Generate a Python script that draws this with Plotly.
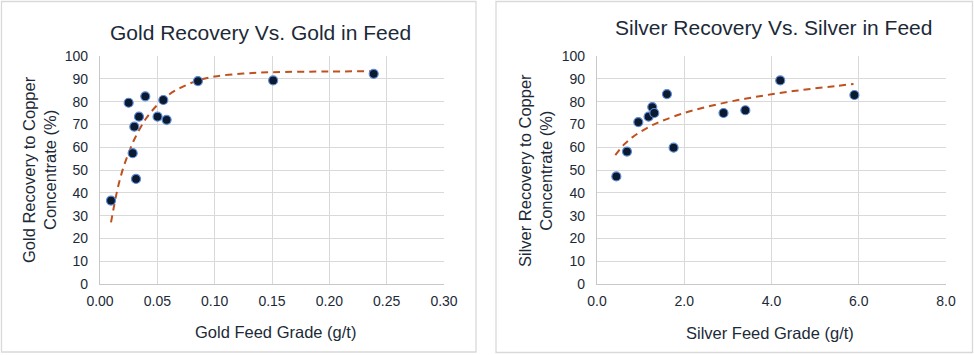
import plotly.graph_objects as go

# ---- Data ----
gold_feed = [0.0096, 0.025, 0.0285, 0.0299, 0.0314, 0.034, 0.0395, 0.0502, 0.0552, 0.0581, 0.0854, 0.151, 0.2387]
gold_rec = [36.6, 79.5, 57.4, 69.0, 46.1, 73.4, 82.3, 73.4, 80.7, 72.0, 89.0, 89.3, 92.2]
gold_trend_x = [0.0096, 0.015, 0.02, 0.025, 0.03, 0.04, 0.05, 0.06, 0.07, 0.085, 0.10, 0.125, 0.15, 0.20, 0.2387]
gold_trend_y = [27.0, 41.0, 50.5, 57.5, 63.5, 72.5, 78.5, 83.0, 86.0, 89.2, 91.0, 92.3, 92.9, 93.2, 93.3]

silver_feed = [0.443, 0.687, 0.947, 1.183, 1.267, 1.313, 1.603, 1.756, 2.90, 3.40, 4.20, 5.90]
silver_rec = [47.2, 58.1, 71.0, 73.4, 77.6, 75.0, 83.3, 59.8, 75.0, 76.2, 89.3, 82.9]
silver_trend_x = [0.42, 0.6, 0.8, 1.0, 1.25, 1.5, 2.0, 2.5, 3.0, 3.5, 4.0, 4.5, 5.0, 5.5, 5.88]
silver_trend_y = [56.5, 60.8, 64.2, 66.8, 69.5, 71.6, 75.0, 77.6, 79.8, 81.6, 83.2, 84.6, 85.8, 86.9, 87.7]

y_ticks = [0, 10, 20, 30, 40, 50, 60, 70, 80, 90, 100]
gold_x_ticks = [0.00, 0.05, 0.10, 0.15, 0.20, 0.25, 0.30]
silver_x_ticks = [0.0, 2.0, 4.0, 6.0, 8.0]

W, H = 974, 355
FONT = "Arial, Liberation Sans, sans-serif"
TXT = "#1c2a38"
GRID = "#d9d9d9"
MARK = "#0b1a2e"
MARK_LINE = "#5b8ad8"
TREND = "#c0501f"

def px(x):
    return x / W

def py(y):
    return 1 - y / H

fig = go.Figure()

trend_line = dict(color=TREND, width=2, dash="7px,5px", shape="spline")
marker = dict(color=MARK, size=9, line=dict(color=MARK_LINE, width=1.2))

fig.add_trace(go.Scatter(x=gold_trend_x, y=gold_trend_y, mode="lines", line=trend_line,
                         xaxis="x", yaxis="y", showlegend=False, hoverinfo="skip"))
fig.add_trace(go.Scatter(x=gold_feed, y=gold_rec, mode="markers", marker=marker,
                         xaxis="x", yaxis="y", showlegend=False))
fig.add_trace(go.Scatter(x=silver_trend_x, y=silver_trend_y, mode="lines", line=trend_line,
                         xaxis="x2", yaxis="y2", showlegend=False, hoverinfo="skip"))
fig.add_trace(go.Scatter(x=silver_feed, y=silver_rec, mode="markers", marker=marker,
                         xaxis="x2", yaxis="y2", showlegend=False))

axis_common = dict(showgrid=True, gridcolor=GRID, gridwidth=1.3, zeroline=False, showline=True, linecolor="#c8c8c8", linewidth=1.3,
                   ticks="", tickfont=dict(family=FONT, size=14, color=TXT), fixedrange=True, automargin=False)

plot_top = py(56)
plot_bot = py(284)

fig.update_layout(
    width=W, height=H,
    margin=dict(l=0, r=0, t=0, b=0, pad=0, autoexpand=False),
    paper_bgcolor="white", plot_bgcolor="white",
    font=dict(family=FONT, color=TXT),
    xaxis=dict(domain=[px(100), px(444)], range=[0, 0.30], tickvals=gold_x_ticks, tickformat=".2f", anchor="y",
               ticklabelstandoff=4, **axis_common),
    yaxis=dict(domain=[plot_bot, plot_top], range=[0, 100], tickvals=y_ticks, anchor="x",
               ticklabelstandoff=8, **axis_common),
    xaxis2=dict(domain=[px(597), px(946)], range=[0, 8], tickvals=silver_x_ticks, tickformat=".1f", anchor="y2",
                ticklabelstandoff=4, **axis_common),
    yaxis2=dict(domain=[plot_bot, plot_top], range=[0, 100], tickvals=y_ticks, anchor="x2",
                ticklabelstandoff=8, **axis_common),
    shapes=[
        dict(type="rect", xref="paper", yref="paper", x0=px(1.5), x1=px(476), y0=py(352), y1=py(1.5),
             line=dict(color="#d9d9d9", width=1.3), layer="below"),
        dict(type="rect", xref="paper", yref="paper", x0=px(496), x1=px(972.5), y0=py(352.5), y1=py(1.5),
             line=dict(color="#d9d9d9", width=1.3), layer="below"),
    ],
    annotations=[
        dict(text="Gold Recovery Vs. Gold in Feed", x=px(260), y=py(33), xref="paper", yref="paper",
             showarrow=False, font=dict(family=FONT, size=21, color=TXT), xanchor="center", yanchor="middle"),
        dict(text="Silver Recovery Vs. Silver in Feed", x=px(773), y=py(27), xref="paper", yref="paper",
             showarrow=False, font=dict(family=FONT, size=21, color=TXT), xanchor="center", yanchor="middle"),
        dict(text="Gold Feed Grade (g/t)", x=px(275), y=py(332), xref="paper", yref="paper",
             showarrow=False, font=dict(family=FONT, size=16.5, color=TXT), xanchor="center", yanchor="middle"),
        dict(text="Silver Feed Grade (g/t)", x=px(770), y=py(333), xref="paper", yref="paper",
             showarrow=False, font=dict(family=FONT, size=16.5, color=TXT), xanchor="center", yanchor="middle"),
        dict(text="Gold Recovery to Copper<br>Concentrate (%)", x=px(39), y=py(170), xref="paper", yref="paper",
             showarrow=False, textangle=-90, font=dict(family=FONT, size=16.5, color=TXT), xanchor="center", yanchor="middle"),
        dict(text="Silver Recovery to Copper<br>Concentrate (%)", x=px(535), y=py(171), xref="paper", yref="paper",
             showarrow=False, textangle=-90, font=dict(family=FONT, size=16.5, color=TXT), xanchor="center", yanchor="middle"),
    ],
)

fig.write_html("out.html", config={"displayModeBar": False},
               post_script="document.body.style.margin='0px';")
